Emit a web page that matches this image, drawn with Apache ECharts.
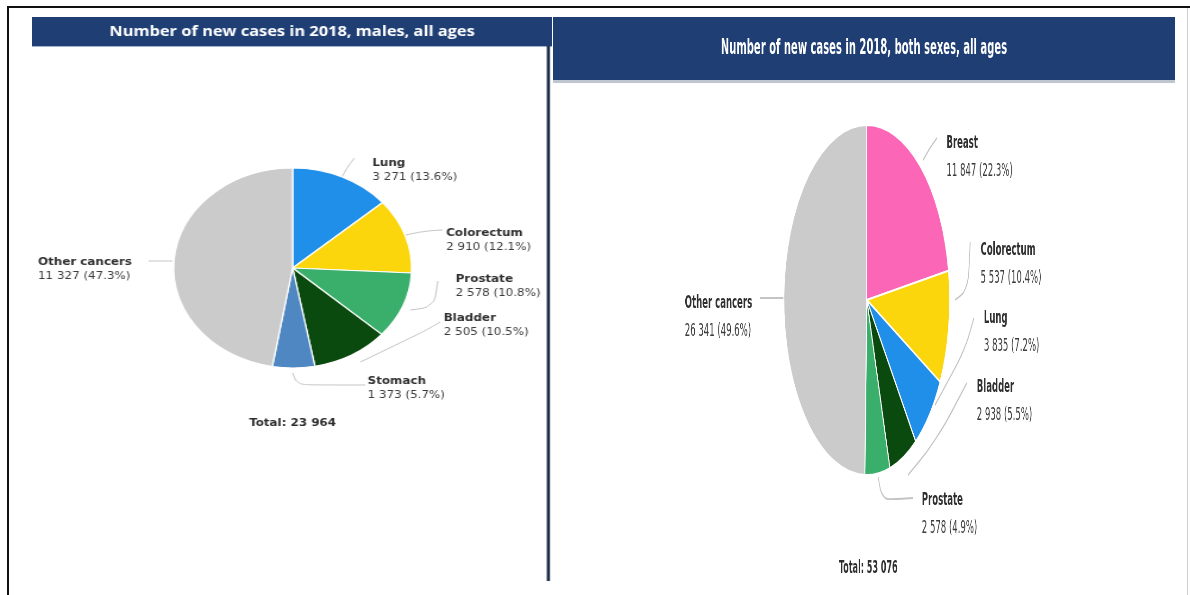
<!DOCTYPE html>
<html>
<head>
<meta charset="utf-8">
<script src="https://cdn.jsdelivr.net/npm/echarts@6/dist/echarts.min.js"></script>
<style>
  html, body { margin: 0; padding: 0; background: #fff; }
  body { width: 1190px; height: 595px; position: relative; overflow: hidden; }
  .frame-top { position: absolute; left: 7px; top: 6px; width: 1183px; height: 2px; background: #111; }
  .frame-left { position: absolute; left: 7px; top: 6px; width: 2px; height: 589px; background: #111; }
  .frame-right { position: absolute; left: 1187px; top: 8px; width: 1px; height: 587px; background: #cfcfcf; }
  /* each panel is drawn at its own width, then stretched sideways */
  #male { position: absolute; left: 32px; top: 17px; width: 437px; height: 564px;
          transform: scaleX(1.19); transform-origin: 0 0; }
  #both { position: absolute; left: 553px; top: 17px; width: 1312px; height: 578px;
          transform: scaleX(0.474); transform-origin: 0 0; }
</style>
</head>
<body>
<div class="frame-top"></div>
<div class="frame-left"></div>
<div class="frame-right"></div>
<div id="male"></div>
<div id="both"></div>
<script>
// New cancer cases in 2018
const maleTitle = 'Number of new cases in 2018, males, all ages';
const maleSites = ['Lung', 'Colorectum', 'Prostate', 'Bladder', 'Stomach', 'Other cancers'];
const maleCases = [3271, 2910, 2578, 2505, 1373, 11327];

const bothTitle = 'Number of new cases in 2018, both sexes, all ages';
const bothSites = ['Breast', 'Colorectum', 'Lung', 'Bladder', 'Prostate', 'Other cancers'];
const bothCases = [11847, 5537, 3835, 2938, 2578, 26341];

// slice colour per cancer site
const siteColor = {
  'Lung': '#1f8fe9',
  'Colorectum': '#fbd60c',
  'Prostate': '#3aae6b',
  'Bladder': '#0a4a0e',
  'Stomach': '#4f87c2',
  'Breast': '#fb66b7',
  'Other cancers': '#cbcbcb'
};

// label block positions (top-left, in each panel's own pixels)
const maleLabelAt = [[286, 139], [348, 209], [356, 255], [346, 294], [282, 357], [5, 238]];
const bothLabelAt = [[830, 112], [902, 219], [909, 287], [894, 356], [778, 469], [278, 272]];

// leader line routes, slice side first
const maleLeaders = [
  [[260, 161], [265, 150], [271, 141]],
  [[314, 218], [330, 214], [345, 213]],
  [[318, 293], [338, 290], [341, 264]],
  [[276, 345], [330, 314], [343, 305]],
  [[219, 356], [223, 368], [280, 368]],
  [[118, 244], [108, 244], [98, 244]]
];
const bothLeaders = [
  [[781, 143], [795, 131], [810, 121]],
  [[848, 283], [876, 273], [880, 225]],
  [[806, 388], [869, 333], [888, 301]],
  [[749, 458], [810, 423], [873, 366]],
  [[686, 460], [694, 483], [760, 481]],
  [[487, 281], [462, 281], [437, 281]]
];

function spaced(n) {
  return String(n).replace(/\B(?=(\d{3})+(?!\d))/g, ' ');
}

// squeeze a title sideways so that it spans the wanted width
const measureCtx = document.createElement('canvas').getContext('2d');
function fitScale(text, font, width) {
  measureCtx.font = font;
  return width / measureCtx.measureText(text).width;
}

function buildPanel(el, cfg) {
  const chart = echarts.init(el, null, { renderer: 'canvas' });
  const total = cfg.values.reduce((a, b) => a + b, 0);
  const data = cfg.sites.map((s, i) => ({
    name: s, value: cfg.values[i], itemStyle: { color: siteColor[s] }
  }));
  chart.setOption({
    animation: false,
    backgroundColor: '#ffffff',
    graphic: [
      { type: 'rect', shape: { x: 0, y: 0, width: cfg.width, height: cfg.barH },
        style: { fill: '#1f3f74' }, z: 10 },
      { type: 'rect', shape: { x: 0, y: cfg.barH, width: cfg.width, height: cfg.shadowH },
        style: { fill: cfg.shadow }, z: 10 },
      { type: 'text', x: cfg.width / 2, y: cfg.barH / 2, z: 11,
        scaleX: fitScale(cfg.title, cfg.titleFont, cfg.titleW),
        style: { text: cfg.title, fill: '#ffffff', align: 'center', verticalAlign: 'middle',
                 font: cfg.titleFont } },
      { type: 'text', x: cfg.totalAt[0], y: cfg.totalAt[1], z: 11,
        style: { text: 'Total: ' + spaced(total), fill: '#2e2e2e', align: 'center',
                 verticalAlign: 'middle', font: cfg.totalFont } }
    ].concat(cfg.extra || []),
    series: [{
      type: 'pie',
      center: cfg.center,
      radius: cfg.radius,
      startAngle: 90,
      clockwise: true,
      avoidLabelOverlap: false,
      silent: true,
      data: data,
      itemStyle: { borderColor: '#ffffff', borderWidth: cfg.borderW },
      label: {
        show: true,
        position: 'outside',
        formatter: p => '{n|' + p.name + '}\n{v|' + spaced(p.value) + ' (' +
          (p.value / total * 100).toFixed(1) + '%)}',
        rich: {
          n: { fontFamily: 'DejaVu Sans', fontWeight: 'bold', fontSize: cfg.labelSize,
               color: '#2f2f2f', lineHeight: cfg.lineH },
          v: { fontFamily: 'DejaVu Sans', fontSize: cfg.labelSize, color: '#3c3c3c',
               lineHeight: cfg.lineH }
        }
      },
      labelLine: {
        show: true, smooth: 0.35,
        lineStyle: { color: '#c4c4c4', width: cfg.lineW }
      },
      labelLayout: p => ({
        x: cfg.labelAt[p.dataIndex][0],
        y: cfg.labelAt[p.dataIndex][1],
        align: 'left',
        verticalAlign: 'top',
        labelLinePoints: cfg.leaders[p.dataIndex]
      })
    }]
  });
  return chart;
}

buildPanel(document.getElementById('male'), {
  title: maleTitle, sites: maleSites, values: maleCases,
  labelAt: maleLabelAt, leaders: maleLeaders,
  width: 437, barH: 29, shadowH: 1, shadow: '#9fb3cf',
  titleFont: 'bold 15px "Open Sans"', titleW: 307, totalFont: 'bold 10px "DejaVu Sans"',
  totalAt: [219, 406], center: [219, 251], radius: 100, borderW: 1.2,
  labelSize: 10, lineH: 14, lineW: 1,
  extra: [
    { type: 'rect', shape: { x: 432.6, y: 29, width: 2.6, height: 535 },
      style: { fill: '#1b2b45' }, z: 10 }
  ]
});

buildPanel(document.getElementById('both'), {
  title: bothTitle, sites: bothSites, values: bothCases,
  labelAt: bothLabelAt, leaders: bothLeaders,
  width: 1312, barH: 63, shadowH: 3, shadow: '#c0c6cf',
  titleFont: 'bold 21px "DejaVu Sans"', titleW: 604, totalFont: 'bold 17px "DejaVu Sans"',
  totalAt: [665, 552], center: [662, 283], radius: 175, borderW: 2,
  labelSize: 18, lineH: 28, lineW: 1.8
});
</script>
</body>
</html>
